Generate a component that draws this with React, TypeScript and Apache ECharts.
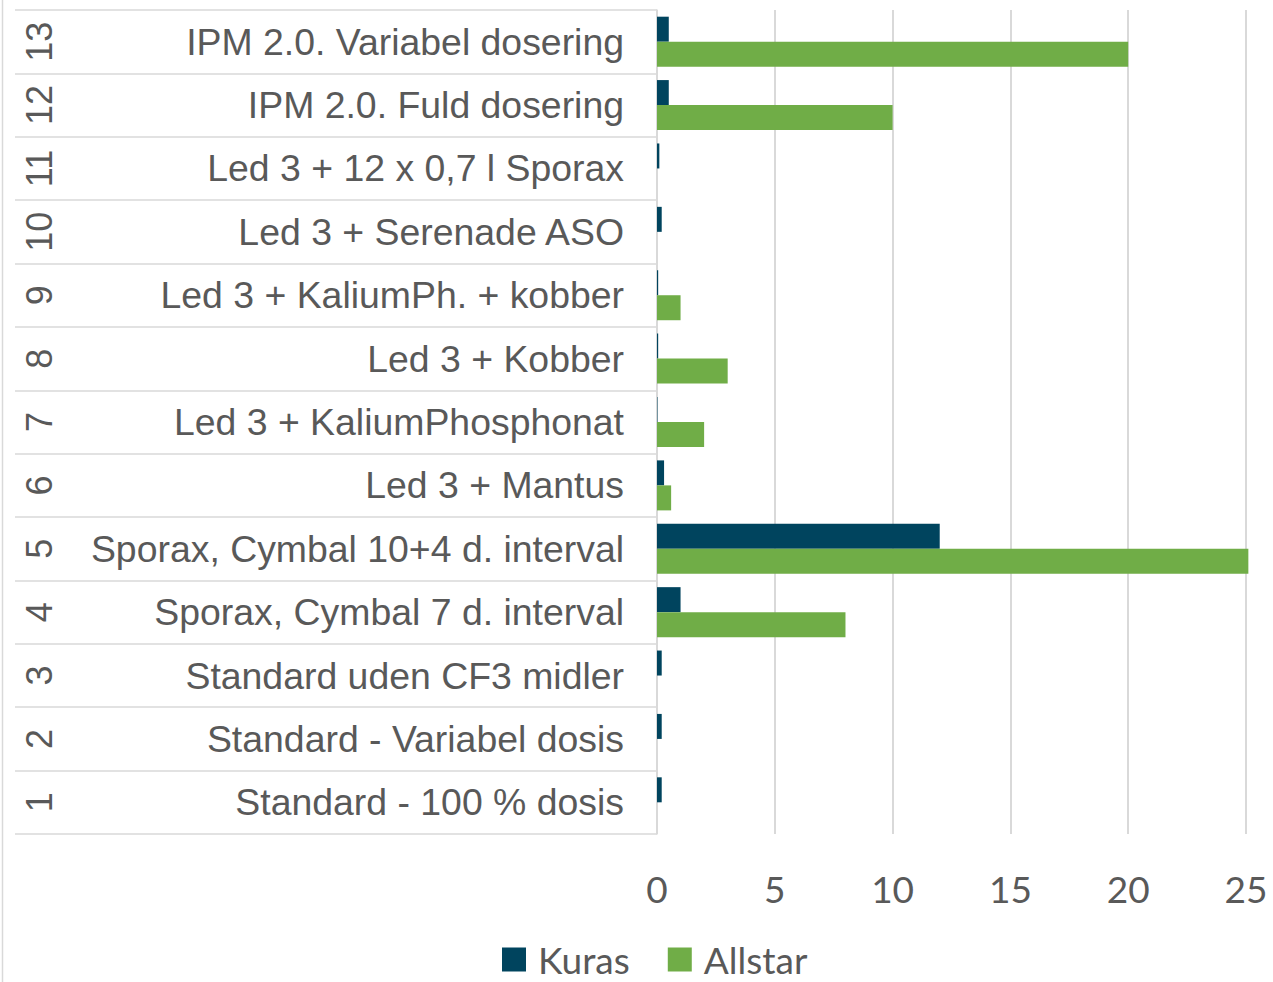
import React, { useEffect, useRef } from "react";
import * as echarts from "echarts";

const treatmentNumbers = ["1", "2", "3", "4", "5", "6", "7", "8", "9", "10", "11", "12", "13"];
const treatmentNames = [
  "Standard - 100 % dosis",
  "Standard - Variabel dosis",
  "Standard uden CF3 midler",
  "Sporax, Cymbal 7 d. interval",
  "Sporax, Cymbal 10+4 d. interval",
  "Led 3 + Mantus",
  "Led 3 + KaliumPhosphonat",
  "Led 3 + Kobber",
  "Led 3 + KaliumPh. + kobber",
  "Led 3 + Serenade ASO",
  "Led 3 + 12 x 0,7 l Sporax",
  "IPM 2.0. Fuld dosering",
  "IPM 2.0. Variabel dosering",
];
const kurasValues = [0.2, 0.2, 0.2, 1, 12, 0.3, 0.02, 0.05, 0.05, 0.2, 0.1, 0.5, 0.5];
const allstarValues = [0, 0, 0, 8, 25.1, 0.6, 2, 3, 1, 0, 0, 10, 20];
const seriesNames = ["Kuras", "Allstar"];

export default function App() {
  const ref = useRef<HTMLDivElement>(null);
  useEffect(() => {
    if (!ref.current) return;
    const chart = echarts.init(ref.current, undefined, { renderer: "svg" });
    const grey = "#d9d9d9";
    const textColor = "#595959";
    chart.setOption({
      animation: false,
      backgroundColor: "#ffffff",
      grid: { left: 657, right: 27, top: 10, bottom: 148, containLabel: false },
      xAxis: {
        type: "value",
        min: 0,
        max: 25,
        interval: 5,
        axisLine: { show: false },
        axisTick: { show: false },
        splitLine: { show: true, lineStyle: { color: grey, width: 2 } },
        axisLabel: {
          margin: 36,
          fontFamily: "Lato",
          fontSize: 37,
          color: textColor,
        },
      },
      yAxis: [
        {
          type: "category",
          data: treatmentNames,
          axisLine: { show: true, lineStyle: { color: grey, width: 1.5 } },
          axisTick: { show: true, length: 642, lineStyle: { color: grey, width: 1.5 } },
          axisLabel: {
            margin: 33,
            fontFamily: "Liberation Sans",
            fontSize: 37.4,
            color: textColor,
          },
        },
        {
          type: "category",
          data: treatmentNumbers,
          position: "left",
          axisLine: { show: false },
          axisTick: { show: false },
          axisLabel: {
            margin: 600,
            rotate: 90,
            fontFamily: "Liberation Sans",
            fontSize: 36,
            color: textColor,
          },
        },
      ],
      legend: {
        data: seriesNames,
        left: 502,
        bottom: 4,
        padding: 0,
        icon: "rect",
        itemWidth: 24,
        itemHeight: 24,
        itemGap: 38,
        textStyle: {
          fontFamily: "Lato",
          fontSize: 37,
          lineHeight: 36,
          color: textColor,
          padding: [0, 0, 0, 7],
        },
      },
      graphic: [
        {
          type: "line",
          shape: { x1: 2.5, y1: 0, x2: 2.5, y2: 982 },
          style: { stroke: grey, lineWidth: 1.5 },
        },
      ],
      series: [
        {
          name: seriesNames[0],
          type: "bar",
          yAxisIndex: 0,
          data: kurasValues,
          barWidth: 25,
          barGap: "0%",
          clip: false,
          itemStyle: { color: "#00445e" },
        },
        {
          name: seriesNames[1],
          type: "bar",
          yAxisIndex: 0,
          data: allstarValues,
          barWidth: 25,
          barGap: "0%",
          clip: false,
          itemStyle: { color: "#70ad47" },
        },
      ],
    });
    return () => chart.dispose();
  }, []);
  return (
    <div
      ref={ref}
      style={{ position: "fixed", left: 0, top: 0, width: 1273, height: 982, background: "#fff" }}
    />
  );
}
